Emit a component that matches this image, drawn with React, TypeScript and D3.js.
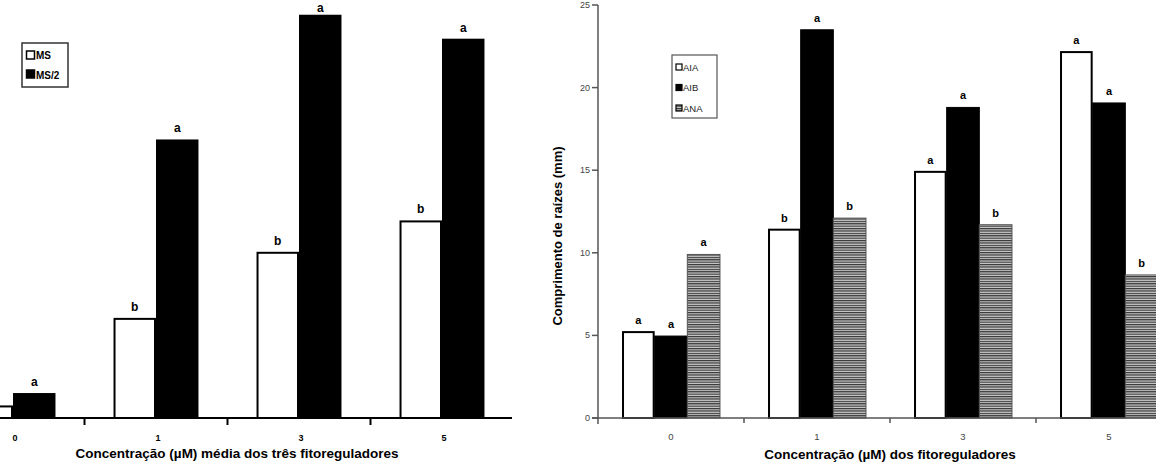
import React from 'react';
import * as d3 from 'd3';

const categories = ['0', '1', '3', '5'];

// Left chart (no visible y axis)
const leftSeries = ['MS', 'MS/2'];
const msValues = [0.7, 6.0, 10.0, 11.9];
const ms2Values = [1.45, 16.8, 24.35, 22.9];
const msLetters = ['', 'b', 'b', 'b'];
const ms2Letters = ['a', 'a', 'a', 'a'];

// Right chart
const rightSeries = ['AIA', 'AIB', 'ANA'];
const aiaValues = [5.2, 11.4, 14.9, 22.15];
const aibValues = [4.96, 23.5, 18.8, 19.07];
const anaValues = [9.9, 12.1, 11.7, 8.66];
const aiaLetters = ['a', 'b', 'a', 'a'];
const aibLetters = ['a', 'a', 'a', 'a'];
const anaLetters = ['a', 'b', 'b', 'b'];
const yTicks = [0, 5, 10, 15, 20, 25];

const leftTitle = 'Concentração (µM) média dos três fitoreguladores';
const rightTitle = 'Concentração (µM) dos fitoreguladores';
const yTitle = 'Comprimento de raízes (mm)';

const FONT = "'Liberation Sans', Arial, sans-serif";

export default function App() {
  const W = 1156, H = 465;
  const baseY = 418;

  // ---------- left ----------
  const lx = d3.scaleBand<string>().domain(categories).range([-58.5, 513.5]).paddingInner(0.406).paddingOuter(0.203);
  const lsub = d3.scaleBand<string>().domain(leftSeries).range([0, lx.bandwidth()]);
  const ly = d3.scaleLinear().domain([0, 25]).range([baseY, 5]);
  const leftData = [msValues, ms2Values];
  const leftLetters = [msLetters, ms2Letters];
  const leftFill = ['#fff', '#000'];
  const lTicks = categories.slice(0, -1).map((c, i) => (lx(c)! + lx.bandwidth() + lx(categories[i + 1])!) / 2);

  // ---------- right ----------
  const rx = d3.scaleBand<string>().domain(categories).range([598, 1182]).paddingInner(0.329).paddingOuter(0.1645);
  const rsub = d3.scaleBand<string>().domain(rightSeries).range([0, rx.bandwidth()]);
  const ry = d3.scaleLinear().domain([0, 25]).range([baseY, 5]);
  const rightData = [aiaValues, aibValues, anaValues];
  const rightLetters = [aiaLetters, aibLetters, anaLetters];
  const rightFill = ['#fff', '#000', 'url(#hatch)'];
  const rTicks = categories.slice(0, -1).map((c, i) => (rx(c)! + rx.bandwidth() + rx(categories[i + 1])!) / 2);

  return (
    <svg width={W} height={H} style={{ position: 'absolute', left: 0, top: 0, background: '#fff' }} fontFamily={FONT}>
      <defs>
        <pattern id="hatch" patternUnits="userSpaceOnUse" width={6} height={2.4}>
          <rect width={6} height={2.4} fill="#cfcfcf" />
          <rect width={6} height={1.2} fill="#333" />
        </pattern>
      </defs>
      <rect width={W} height={H} fill="#fff" />

      {/* ---------- LEFT CHART ---------- */}
      <g>
        {categories.map((c, i) =>
          leftSeries.map((s, j) => {
            const x = lx(c)! + lsub(s)!;
            const y = ly(leftData[j][i]);
            const w = lsub.bandwidth();
            return (
              <g key={c + s}>
                <rect x={x + 1} y={y} width={w - 2} height={baseY - y} fill={leftFill[j]} stroke="#000" strokeWidth={2} />
                {leftLetters[j][i] && (
                  <text x={x + w / 2} y={Math.max(y - 8, 12)} textAnchor="middle" fontSize={12} fontWeight="bold">
                    {leftLetters[j][i]}
                  </text>
                )}
              </g>
            );
          })
        )}
        <line x1={0} x2={512} y1={baseY} y2={baseY} stroke="#000" strokeWidth={2} />
        {lTicks.map((t, i) => (
          <line key={i} x1={t} x2={t} y1={baseY} y2={baseY + 7} stroke="#000" strokeWidth={2} />
        ))}
        {categories.map((c) => (
          <text key={c} x={lx(c)! + lx.bandwidth() / 2 + 2} y={441} textAnchor="middle" fontSize={9} fontWeight="bold">
            {c}
          </text>
        ))}
        <text x={237} y={458} textAnchor="middle" fontSize={13.5} fontWeight="bold">{leftTitle}</text>

        {/* legend */}
        <rect x={22} y={43} width={46} height={44} fill="#fff" stroke="#333" strokeWidth={1.5} />
        {leftSeries.map((s, j) => (
          <g key={s}>
            <rect x={26.5} y={j === 0 ? 51 : 70} width={8} height={8} fill={leftFill[j]} stroke="#000" strokeWidth={1.5} />
            <text x={36} y={j === 0 ? 59 : 78.5} fontSize={10} fontWeight="bold">{s}</text>
          </g>
        ))}
      </g>

      {/* ---------- RIGHT CHART ---------- */}
      <g>
        {categories.map((c, i) =>
          rightSeries.map((s, j) => {
            const x = rx(c)! + rsub(s)!;
            const y = ry(rightData[j][i]);
            const w = rsub.bandwidth();
            return (
              <g key={c + s}>
                <rect
                  x={x + (j === 0 ? 1 : 0)}
                  y={y}
                  width={w - (j === 0 ? 2 : 0)}
                  height={baseY - y}
                  fill={rightFill[j]}
                  stroke={j === 2 ? '#555' : '#000'}
                  strokeWidth={j === 0 ? 2 : 1}
                />
                <text x={x + w / 2} y={y - 8} textAnchor="middle" fontSize={11} fontWeight="bold">
                  {rightLetters[j][i]}
                </text>
              </g>
            );
          })
        )}
        <line x1={592} x2={1156} y1={baseY} y2={baseY} stroke="#555" strokeWidth={1.5} />
        <line x1={598} x2={598} y1={5} y2={424} stroke="#555" strokeWidth={1.5} />
        {rTicks.map((t, i) => (
          <line key={i} x1={t} x2={t} y1={baseY} y2={baseY + 5} stroke="#555" strokeWidth={1.5} />
        ))}
        {yTicks.map((t) => (
          <g key={t}>
            <line x1={592} x2={598} y1={ry(t)} y2={ry(t)} stroke="#555" strokeWidth={1.5} />
            <text x={590} y={ry(t) + 3} textAnchor="end" fontSize={9} fill="#444">{t}</text>
          </g>
        ))}
        {categories.map((c) => (
          <text key={c} x={rx(c)! + rx.bandwidth() / 2} y={440} textAnchor="middle" fontSize={9.5} fill="#444">
            {c}
          </text>
        ))}
        <text x={890} y={459} textAnchor="middle" fontSize={13.5} fontWeight="bold">{rightTitle}</text>
        <text transform="translate(562,236) rotate(-90)" textAnchor="middle" fontSize={13} fontWeight="bold">{yTitle}</text>

        {/* legend */}
        <rect x={672} y={55} width={45} height={63} fill="#fff" stroke="#555" strokeWidth={1.2} />
        {rightSeries.map((s, j) => (
          <g key={s}>
            <rect x={676} y={64 + j * 20.5} width={6} height={6} fill={rightFill[j]} stroke="#000" strokeWidth={1.2} />
            <text x={683} y={70.5 + j * 20.5} fontSize={9.5} fill="#222">{s}</text>
          </g>
        ))}
      </g>
    </svg>
  );
}
